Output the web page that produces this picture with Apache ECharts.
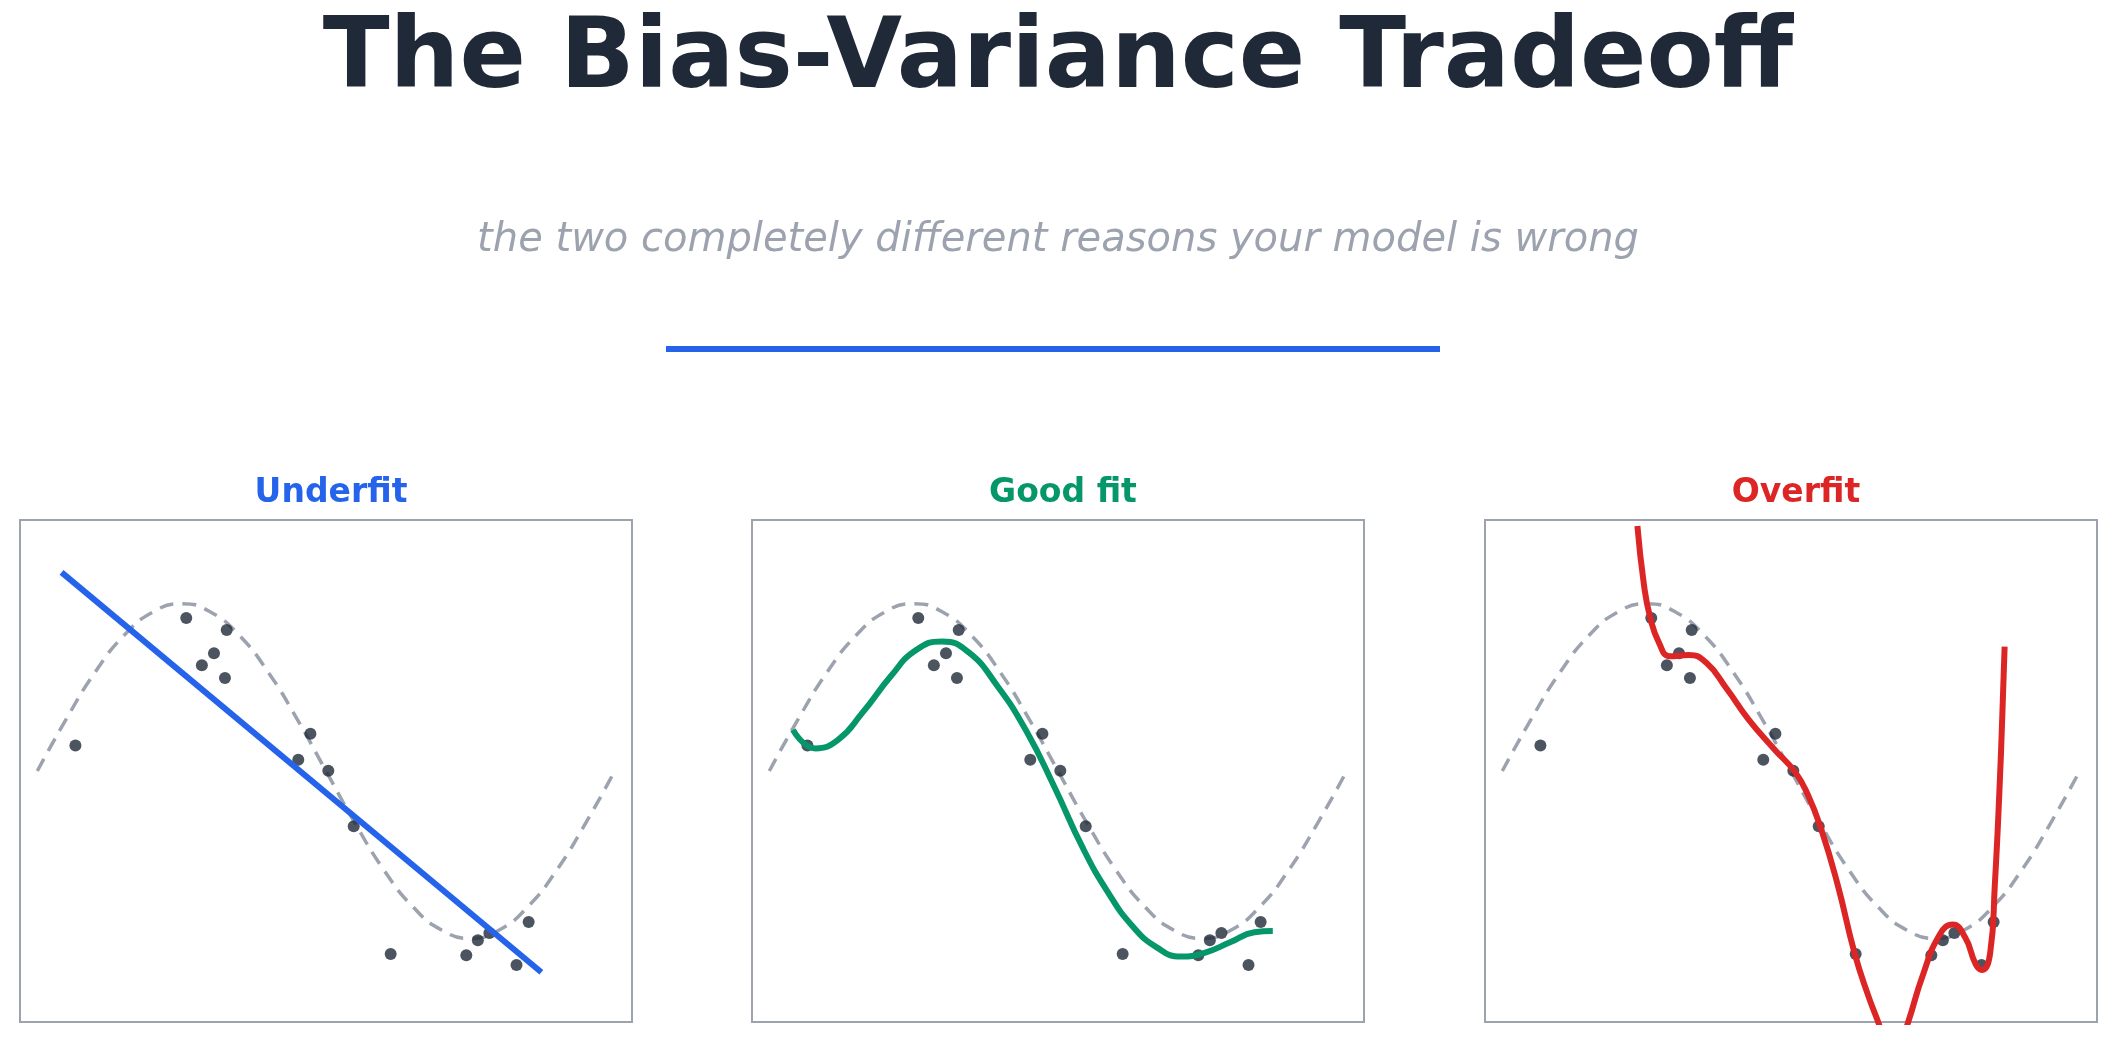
<!DOCTYPE html>
<html><head><meta charset="utf-8">
<script src="https://cdn.jsdelivr.net/npm/echarts@6/dist/echarts.min.js"></script>
<style>html,body{margin:0;padding:0;background:#fff}#c{width:2116px;height:1043px}</style>
</head><body><div id="c"></div>
<script>
const panelTitles = ['Underfit', 'Good fit', 'Overfit'];
const panelColors = ['#2563eb', '#059669', '#dc2626'];
const trueX = [0,0.05,0.1,0.15,0.2,0.25,0.3,0.35,0.4,0.45,0.5,0.55,0.6,0.65,0.7,0.75,0.8,0.85,0.9,0.95,1];
const trueY = [0,0.31,0.59,0.81,0.95,1,0.95,0.81,0.59,0.31,0,-0.31,-0.59,-0.81,-0.95,-1,-0.95,-0.81,-0.59,-0.31,0];
const pointsX = [0.066,0.258,0.328,0.306,0.285,0.325,0.473,0.452,0.504,0.548,0.612,0.743,0.763,0.783,0.830,0.851];
const pointsY = [0.152,0.914,0.842,0.704,0.632,0.556,0.222,0.067,0.001,-0.330,-1.094,-1.101,-1.011,-0.968,-1.160,-0.903];
const underX = [0.042,0.873];
const underY = [1.187,-1.203];
const goodX = [0.041,0.080,0.119,0.161,0.211,0.253,0.299,0.345,0.395,0.444,0.494,0.543,0.586,0.628,0.671,0.713,0.755,0.798,0.840,0.872];
const goodY = [0.246,0.135,0.186,0.347,0.569,0.720,0.774,0.710,0.508,0.246,-0.097,-0.460,-0.722,-0.923,-1.054,-1.109,-1.085,-1.024,-0.964,-0.956];
const overX = [0.234,0.245,0.256,0.272,0.290,0.323,0.353,0.389,0.426,0.471,0.507,0.529,0.552,0.581,0.610,0.633,0.651,0.677,0.703,0.728,0.758,0.780,0.802,0.820,0.831,0.845,0.853,0.861,0.866,0.870];
const overY = [1.464,1.121,0.919,0.761,0.686,0.693,0.648,0.490,0.310,0.130,-0.006,-0.141,-0.344,-0.682,-1.087,-1.335,-1.5,-1.75,-1.5,-1.223,-0.975,-0.918,-0.997,-1.155,-1.189,-1.087,-0.682,-0.118,0.333,0.743];

const zip = (a,b)=>a.map((v,i)=>[v,b[i]]);
const fits = [zip(underX,underY), zip(goodX,goodY), zip(overX,overY)];
const lefts = [20, 752, 1485];
const W = 612, TOP = 520, H = 502;

const grids=[], xAxes=[], yAxes=[], series=[], titles=[];
titles.push({text:'The Bias-Variance Tradeoff', left:'center', top:8,
  textStyle:{fontFamily:'DejaVu Sans', fontWeight:'bold', fontSize:98, color:'#1f2937'}});
titles.push({text:'the two completely different reasons your model is wrong', left:'center', top:216,
  textStyle:{fontFamily:'DejaVu Sans', fontStyle:'italic', fontWeight:'normal', fontSize:40, color:'#9ca3af'}});
for(let i=0;i<3;i++){
  grids.push({left:lefts[i], top:TOP, width:W, height:H, show:true, borderColor:'#9ca3af', borderWidth:2, backgroundColor:'#fff'});
  xAxes.push({gridIndex:i, type:'value', min:-0.03, max:1.03, show:false});
  yAxes.push({gridIndex:i, type:'value', min:-1.5, max:1.5, show:false});
  titles.push({text:panelTitles[i], left:lefts[i]+W/2, textAlign:'center', top:472,
    textStyle:{fontFamily:'DejaVu Sans', fontWeight:'bold', fontSize:33, color:panelColors[i]}});
  series.push({type:'line', xAxisIndex:i, yAxisIndex:i, data:zip(trueX,trueY), smooth:true, showSymbol:false, silent:true,
    lineStyle:{color:'#9ca3af', width:3.5, type:[14,9]}, clip:true});
  series.push({type:'scatter', xAxisIndex:i, yAxisIndex:i, data:zip(pointsX,pointsY), symbolSize:12,
    itemStyle:{color:'#1f2937'}, z:3});
  series.push({type:'line', xAxisIndex:i, yAxisIndex:i, data:fits[i], smooth:i>0, showSymbol:false,
    lineStyle:{color:panelColors[i], width:6}, clip:true, z:4});
}
const chart = echarts.init(document.getElementById('c'));
chart.setOption({
  animation:false, backgroundColor:'#fff', title:titles, grid:grids, xAxis:xAxes, yAxis:yAxes, series:series,
  graphic:[{type:'line', shape:{x1:666, y1:349, x2:1440, y2:349}, style:{stroke:'#2563eb', lineWidth:6}}]
});
</script></body></html>
